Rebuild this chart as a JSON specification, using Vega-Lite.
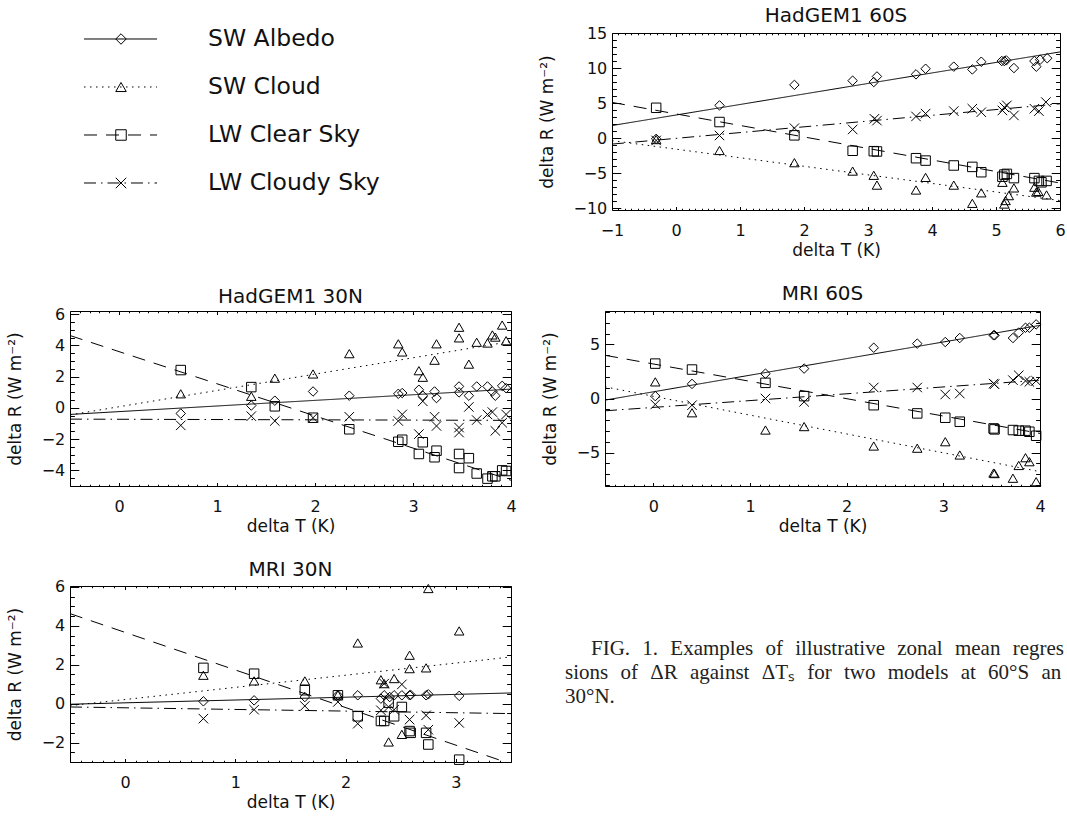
{
  "$schema": "https://vega.github.io/schema/vega-lite/v6.json",
  "padding": {"left": 5, "top": 5, "right": 0, "bottom": 0},
  "background": "white",
  "datasets": {
    "pts": [
      {"p":"H60S","s":"A","x":-0.31,"y":-0.1},{"p":"H60S","s":"A","x":0.68,"y":4.67},{"p":"H60S","s":"A","x":1.85,"y":7.6},{"p":"H60S","s":"A","x":2.76,"y":8.2},{"p":"H60S","s":"A","x":3.09,"y":8.0},{"p":"H60S","s":"A","x":3.14,"y":8.8},{"p":"H60S","s":"A","x":3.75,"y":9.1},{"p":"H60S","s":"A","x":3.9,"y":9.9},{"p":"H60S","s":"A","x":4.34,"y":10.2},{"p":"H60S","s":"A","x":4.63,"y":9.8},{"p":"H60S","s":"A","x":4.77,"y":10.9},{"p":"H60S","s":"A","x":5.09,"y":11.0},{"p":"H60S","s":"A","x":5.13,"y":11.0},{"p":"H60S","s":"A","x":5.16,"y":11.1},{"p":"H60S","s":"A","x":5.28,"y":10.0},{"p":"H60S","s":"A","x":5.6,"y":11.0},{"p":"H60S","s":"A","x":5.63,"y":10.2},{"p":"H60S","s":"A","x":5.69,"y":11.2},{"p":"H60S","s":"A","x":5.8,"y":11.4},
      {"p":"H60S","s":"C","x":-0.31,"y":-0.2},{"p":"H60S","s":"C","x":0.68,"y":-1.76},{"p":"H60S","s":"C","x":1.85,"y":-3.5},{"p":"H60S","s":"C","x":2.76,"y":-4.7},{"p":"H60S","s":"C","x":3.09,"y":-5.3},{"p":"H60S","s":"C","x":3.14,"y":-6.7},{"p":"H60S","s":"C","x":3.75,"y":-7.4},{"p":"H60S","s":"C","x":3.9,"y":-5.6},{"p":"H60S","s":"C","x":4.34,"y":-6.7},{"p":"H60S","s":"C","x":4.63,"y":-9.3},{"p":"H60S","s":"C","x":4.77,"y":-7.8},{"p":"H60S","s":"C","x":5.1,"y":-6.3},{"p":"H60S","s":"C","x":5.13,"y":-9.4},{"p":"H60S","s":"C","x":5.15,"y":-8.9},{"p":"H60S","s":"C","x":5.2,"y":-8.2},{"p":"H60S","s":"C","x":5.28,"y":-7.1},{"p":"H60S","s":"C","x":5.6,"y":-7.0},{"p":"H60S","s":"C","x":5.63,"y":-7.7},{"p":"H60S","s":"C","x":5.66,"y":-7.6},{"p":"H60S","s":"C","x":5.79,"y":-8.1},
      {"p":"H60S","s":"L","x":-0.31,"y":4.33},{"p":"H60S","s":"L","x":0.68,"y":2.3},{"p":"H60S","s":"L","x":1.85,"y":0.4},{"p":"H60S","s":"L","x":2.76,"y":-1.8},{"p":"H60S","s":"L","x":3.09,"y":-1.86},{"p":"H60S","s":"L","x":3.14,"y":-1.9},{"p":"H60S","s":"L","x":3.75,"y":-2.86},{"p":"H60S","s":"L","x":3.9,"y":-3.2},{"p":"H60S","s":"L","x":4.34,"y":-3.9},{"p":"H60S","s":"L","x":4.63,"y":-4.1},{"p":"H60S","s":"L","x":4.77,"y":-4.86},{"p":"H60S","s":"L","x":5.1,"y":-5.5},{"p":"H60S","s":"L","x":5.13,"y":-5.2},{"p":"H60S","s":"L","x":5.17,"y":-5.1},{"p":"H60S","s":"L","x":5.28,"y":-5.7},{"p":"H60S","s":"L","x":5.6,"y":-5.7},{"p":"H60S","s":"L","x":5.67,"y":-6.1},{"p":"H60S","s":"L","x":5.71,"y":-6.3},{"p":"H60S","s":"L","x":5.79,"y":-6.1},
      {"p":"H60S","s":"K","x":-0.31,"y":-0.33},{"p":"H60S","s":"K","x":0.68,"y":0.38},{"p":"H60S","s":"K","x":1.85,"y":1.43},{"p":"H60S","s":"K","x":2.76,"y":1.24},{"p":"H60S","s":"K","x":3.1,"y":2.76},{"p":"H60S","s":"K","x":3.14,"y":2.5},{"p":"H60S","s":"K","x":3.75,"y":3.1},{"p":"H60S","s":"K","x":3.9,"y":3.5},{"p":"H60S","s":"K","x":4.34,"y":3.86},{"p":"H60S","s":"K","x":4.63,"y":4.2},{"p":"H60S","s":"K","x":4.77,"y":3.7},{"p":"H60S","s":"K","x":5.1,"y":3.95},{"p":"H60S","s":"K","x":5.13,"y":4.4},{"p":"H60S","s":"K","x":5.17,"y":4.67},{"p":"H60S","s":"K","x":5.28,"y":3.24},{"p":"H60S","s":"K","x":5.6,"y":4.2},{"p":"H60S","s":"K","x":5.67,"y":3.86},{"p":"H60S","s":"K","x":5.78,"y":5.14},

      {"p":"H30N","s":"A","x":0.63,"y":-0.36},{"p":"H30N","s":"A","x":1.35,"y":0.15},{"p":"H30N","s":"A","x":1.59,"y":0.46},{"p":"H30N","s":"A","x":1.98,"y":1.05},{"p":"H30N","s":"A","x":2.35,"y":0.78},{"p":"H30N","s":"A","x":2.85,"y":0.9},{"p":"H30N","s":"A","x":2.89,"y":0.95},{"p":"H30N","s":"A","x":3.06,"y":1.16},{"p":"H30N","s":"A","x":3.1,"y":0.78},{"p":"H30N","s":"A","x":3.22,"y":1.05},{"p":"H30N","s":"A","x":3.24,"y":0.63},{"p":"H30N","s":"A","x":3.47,"y":1.37},{"p":"H30N","s":"A","x":3.47,"y":0.99},{"p":"H30N","s":"A","x":3.57,"y":0.78},{"p":"H30N","s":"A","x":3.65,"y":1.37},{"p":"H30N","s":"A","x":3.76,"y":1.37},{"p":"H30N","s":"A","x":3.81,"y":1.05},{"p":"H30N","s":"A","x":3.84,"y":0.78},{"p":"H30N","s":"A","x":3.91,"y":1.41},{"p":"H30N","s":"A","x":3.95,"y":1.26},
      {"p":"H30N","s":"C","x":0.63,"y":0.9},{"p":"H30N","s":"C","x":1.35,"y":0.74},{"p":"H30N","s":"C","x":1.59,"y":1.9},{"p":"H30N","s":"C","x":1.98,"y":2.17},{"p":"H30N","s":"C","x":2.35,"y":3.47},{"p":"H30N","s":"C","x":2.85,"y":4.1},{"p":"H30N","s":"C","x":2.89,"y":3.58},{"p":"H30N","s":"C","x":3.06,"y":2.38},{"p":"H30N","s":"C","x":3.1,"y":1.96},{"p":"H30N","s":"C","x":3.22,"y":3.05},{"p":"H30N","s":"C","x":3.24,"y":4.1},{"p":"H30N","s":"C","x":3.47,"y":5.16},{"p":"H30N","s":"C","x":3.47,"y":4.48},{"p":"H30N","s":"C","x":3.57,"y":2.8},{"p":"H30N","s":"C","x":3.65,"y":4.2},{"p":"H30N","s":"C","x":3.76,"y":4.15},{"p":"H30N","s":"C","x":3.81,"y":4.67},{"p":"H30N","s":"C","x":3.84,"y":4.53},{"p":"H30N","s":"C","x":3.91,"y":5.3},{"p":"H30N","s":"C","x":3.95,"y":4.3},
      {"p":"H30N","s":"L","x":0.63,"y":2.42},{"p":"H30N","s":"L","x":1.35,"y":1.33},{"p":"H30N","s":"L","x":1.59,"y":0.1},{"p":"H30N","s":"L","x":1.98,"y":-0.63},{"p":"H30N","s":"L","x":2.35,"y":-1.37},{"p":"H30N","s":"L","x":2.85,"y":-2.17},{"p":"H30N","s":"L","x":2.89,"y":-2.04},{"p":"H30N","s":"L","x":3.06,"y":-2.95},{"p":"H30N","s":"L","x":3.1,"y":-2.2},{"p":"H30N","s":"L","x":3.22,"y":-3.16},{"p":"H30N","s":"L","x":3.24,"y":-2.74},{"p":"H30N","s":"L","x":3.47,"y":-2.95},{"p":"H30N","s":"L","x":3.47,"y":-3.85},{"p":"H30N","s":"L","x":3.57,"y":-3.22},{"p":"H30N","s":"L","x":3.65,"y":-4.2},{"p":"H30N","s":"L","x":3.76,"y":-4.53},{"p":"H30N","s":"L","x":3.81,"y":-4.38},{"p":"H30N","s":"L","x":3.84,"y":-4.38},{"p":"H30N","s":"L","x":3.91,"y":-4.0},{"p":"H30N","s":"L","x":3.95,"y":-4.04},
      {"p":"H30N","s":"K","x":0.63,"y":-1.12},{"p":"H30N","s":"K","x":1.35,"y":-0.53},{"p":"H30N","s":"K","x":1.59,"y":-0.84},{"p":"H30N","s":"K","x":1.98,"y":-0.63},{"p":"H30N","s":"K","x":2.35,"y":-0.57},{"p":"H30N","s":"K","x":2.85,"y":-0.84},{"p":"H30N","s":"K","x":2.89,"y":-0.42},{"p":"H30N","s":"K","x":3.06,"y":-1.68},{"p":"H30N","s":"K","x":3.1,"y":0.42},{"p":"H30N","s":"K","x":3.22,"y":-0.57},{"p":"H30N","s":"K","x":3.24,"y":-1.16},{"p":"H30N","s":"K","x":3.47,"y":-1.26},{"p":"H30N","s":"K","x":3.47,"y":-1.58},{"p":"H30N","s":"K","x":3.57,"y":0.06},{"p":"H30N","s":"K","x":3.65,"y":-0.78},{"p":"H30N","s":"K","x":3.76,"y":-0.42},{"p":"H30N","s":"K","x":3.81,"y":-0.27},{"p":"H30N","s":"K","x":3.84,"y":-1.47},{"p":"H30N","s":"K","x":3.91,"y":-0.95},{"p":"H30N","s":"K","x":3.95,"y":-0.42},

      {"p":"M60S","s":"A","x":0.02,"y":0.22},{"p":"M60S","s":"A","x":0.4,"y":1.35},{"p":"M60S","s":"A","x":1.16,"y":2.3},{"p":"M60S","s":"A","x":1.56,"y":2.77},{"p":"M60S","s":"A","x":2.28,"y":4.7},{"p":"M60S","s":"A","x":2.73,"y":5.08},{"p":"M60S","s":"A","x":3.02,"y":5.23},{"p":"M60S","s":"A","x":3.17,"y":5.6},{"p":"M60S","s":"A","x":3.52,"y":5.85},{"p":"M60S","s":"A","x":3.53,"y":5.85},{"p":"M60S","s":"A","x":3.72,"y":5.6},{"p":"M60S","s":"A","x":3.78,"y":6.1},{"p":"M60S","s":"A","x":3.85,"y":6.55},{"p":"M60S","s":"A","x":3.89,"y":6.55},{"p":"M60S","s":"A","x":3.96,"y":6.86},
      {"p":"M60S","s":"C","x":0.02,"y":1.54},{"p":"M60S","s":"C","x":0.4,"y":-1.32},{"p":"M60S","s":"C","x":1.16,"y":-2.92},{"p":"M60S","s":"C","x":1.56,"y":-2.6},{"p":"M60S","s":"C","x":2.28,"y":-4.4},{"p":"M60S","s":"C","x":2.73,"y":-4.6},{"p":"M60S","s":"C","x":3.02,"y":-4.0},{"p":"M60S","s":"C","x":3.17,"y":-5.23},{"p":"M60S","s":"C","x":3.52,"y":-6.9},{"p":"M60S","s":"C","x":3.53,"y":-6.95},{"p":"M60S","s":"C","x":3.72,"y":-7.38},{"p":"M60S","s":"C","x":3.78,"y":-6.2},{"p":"M60S","s":"C","x":3.85,"y":-5.48},{"p":"M60S","s":"C","x":3.89,"y":-5.85},{"p":"M60S","s":"C","x":3.96,"y":-7.7},
      {"p":"M60S","s":"L","x":0.02,"y":3.23},{"p":"M60S","s":"L","x":0.4,"y":2.68},{"p":"M60S","s":"L","x":1.16,"y":1.45},{"p":"M60S","s":"L","x":1.56,"y":0.22},{"p":"M60S","s":"L","x":2.28,"y":-0.62},{"p":"M60S","s":"L","x":2.73,"y":-1.38},{"p":"M60S","s":"L","x":3.02,"y":-1.78},{"p":"M60S","s":"L","x":3.17,"y":-2.15},{"p":"M60S","s":"L","x":3.52,"y":-2.77},{"p":"M60S","s":"L","x":3.53,"y":-2.86},{"p":"M60S","s":"L","x":3.72,"y":-2.92},{"p":"M60S","s":"L","x":3.78,"y":-2.98},{"p":"M60S","s":"L","x":3.85,"y":-2.98},{"p":"M60S","s":"L","x":3.89,"y":-3.08},{"p":"M60S","s":"L","x":3.96,"y":-3.45},
      {"p":"M60S","s":"K","x":0.02,"y":-0.55},{"p":"M60S","s":"K","x":0.4,"y":-0.62},{"p":"M60S","s":"K","x":1.16,"y":0.0},{"p":"M60S","s":"K","x":1.56,"y":-0.31},{"p":"M60S","s":"K","x":2.28,"y":1.02},{"p":"M60S","s":"K","x":2.73,"y":1.02},{"p":"M60S","s":"K","x":3.02,"y":0.37},{"p":"M60S","s":"K","x":3.17,"y":0.46},{"p":"M60S","s":"K","x":3.52,"y":1.38},{"p":"M60S","s":"K","x":3.53,"y":1.32},{"p":"M60S","s":"K","x":3.72,"y":1.7},{"p":"M60S","s":"K","x":3.78,"y":2.15},{"p":"M60S","s":"K","x":3.85,"y":1.63},{"p":"M60S","s":"K","x":3.89,"y":1.54},{"p":"M60S","s":"K","x":3.96,"y":1.63},

      {"p":"M30N","s":"A","x":0.71,"y":0.12},{"p":"M30N","s":"A","x":1.17,"y":0.17},{"p":"M30N","s":"A","x":1.63,"y":0.34},{"p":"M30N","s":"A","x":1.93,"y":0.43},{"p":"M30N","s":"A","x":2.11,"y":0.43},{"p":"M30N","s":"A","x":2.32,"y":0.26},{"p":"M30N","s":"A","x":2.35,"y":0.43},{"p":"M30N","s":"A","x":2.4,"y":0.34},{"p":"M30N","s":"A","x":2.44,"y":0.43},{"p":"M30N","s":"A","x":2.51,"y":0.43},{"p":"M30N","s":"A","x":2.58,"y":0.43},{"p":"M30N","s":"A","x":2.59,"y":0.45},{"p":"M30N","s":"A","x":2.73,"y":0.43},{"p":"M30N","s":"A","x":2.75,"y":0.48},{"p":"M30N","s":"A","x":3.03,"y":0.4},
      {"p":"M30N","s":"C","x":0.71,"y":1.46},{"p":"M30N","s":"C","x":1.17,"y":1.17},{"p":"M30N","s":"C","x":1.63,"y":1.17},{"p":"M30N","s":"C","x":1.93,"y":0.45},{"p":"M30N","s":"C","x":2.11,"y":3.12},{"p":"M30N","s":"C","x":2.32,"y":1.23},{"p":"M30N","s":"C","x":2.35,"y":1.03},{"p":"M30N","s":"C","x":2.39,"y":-1.97},{"p":"M30N","s":"C","x":2.44,"y":1.29},{"p":"M30N","s":"C","x":2.51,"y":-1.58},{"p":"M30N","s":"C","x":2.58,"y":2.49},{"p":"M30N","s":"C","x":2.58,"y":1.8},{"p":"M30N","s":"C","x":2.73,"y":1.84},{"p":"M30N","s":"C","x":2.75,"y":5.92},{"p":"M30N","s":"C","x":3.03,"y":3.74},
      {"p":"M30N","s":"L","x":0.71,"y":1.84},{"p":"M30N","s":"L","x":1.17,"y":1.54},{"p":"M30N","s":"L","x":1.63,"y":0.69},{"p":"M30N","s":"L","x":1.93,"y":0.43},{"p":"M30N","s":"L","x":2.11,"y":-0.65},{"p":"M30N","s":"L","x":2.32,"y":-0.89},{"p":"M30N","s":"L","x":2.35,"y":-0.89},{"p":"M30N","s":"L","x":2.39,"y":0.05},{"p":"M30N","s":"L","x":2.44,"y":-0.65},{"p":"M30N","s":"L","x":2.51,"y":-0.17},{"p":"M30N","s":"L","x":2.58,"y":-1.41},{"p":"M30N","s":"L","x":2.59,"y":-1.5},{"p":"M30N","s":"L","x":2.73,"y":-1.5},{"p":"M30N","s":"L","x":2.75,"y":-2.1},{"p":"M30N","s":"L","x":3.03,"y":-2.88},
      {"p":"M30N","s":"K","x":0.71,"y":-0.77},{"p":"M30N","s":"K","x":1.17,"y":-0.31},{"p":"M30N","s":"K","x":1.63,"y":-0.12},{"p":"M30N","s":"K","x":1.93,"y":0.09},{"p":"M30N","s":"K","x":2.11,"y":-1.03},{"p":"M30N","s":"K","x":2.32,"y":-0.34},{"p":"M30N","s":"K","x":2.35,"y":1.03},{"p":"M30N","s":"K","x":2.39,"y":-0.17},{"p":"M30N","s":"K","x":2.44,"y":-0.31},{"p":"M30N","s":"K","x":2.51,"y":0.99},{"p":"M30N","s":"K","x":2.58,"y":-0.82},{"p":"M30N","s":"K","x":2.73,"y":-0.6},{"p":"M30N","s":"K","x":2.75,"y":-1.34},{"p":"M30N","s":"K","x":3.03,"y":-0.99}
    ],
    "fit": [
      {"p":"H60S","s":"A","x":-1,"y":1.8},{"p":"H60S","s":"A","x":6,"y":12.3},
      {"p":"H60S","s":"C","x":-1,"y":-0.35},{"p":"H60S","s":"C","x":6,"y":-8.9},
      {"p":"H60S","s":"L","x":-1,"y":5.1},{"p":"H60S","s":"L","x":6,"y":-6.4},
      {"p":"H60S","s":"K","x":-1,"y":-0.85},{"p":"H60S","s":"K","x":6,"y":4.9},
      {"p":"H30N","s":"A","x":-0.5,"y":-0.42},{"p":"H30N","s":"A","x":4,"y":1.2},
      {"p":"H30N","s":"C","x":-0.5,"y":-0.45},{"p":"H30N","s":"C","x":4,"y":4.25},
      {"p":"H30N","s":"L","x":-0.5,"y":4.63},{"p":"H30N","s":"L","x":4,"y":-4.63},
      {"p":"H30N","s":"K","x":-0.5,"y":-0.72},{"p":"H30N","s":"K","x":4,"y":-0.8},
      {"p":"M60S","s":"A","x":-0.5,"y":-0.15},{"p":"M60S","s":"A","x":4,"y":6.77},
      {"p":"M60S","s":"C","x":-0.5,"y":1.08},{"p":"M60S","s":"C","x":4,"y":-6.77},
      {"p":"M60S","s":"L","x":-0.5,"y":4.0},{"p":"M60S","s":"L","x":4,"y":-3.23},
      {"p":"M60S","s":"K","x":-0.5,"y":-1.14},{"p":"M60S","s":"K","x":4,"y":1.7},
      {"p":"M30N","s":"A","x":-0.5,"y":-0.03},{"p":"M30N","s":"A","x":3.5,"y":0.55},
      {"p":"M30N","s":"C","x":-0.5,"y":-0.1},{"p":"M30N","s":"C","x":3.5,"y":2.4},
      {"p":"M30N","s":"L","x":-0.5,"y":4.63},{"p":"M30N","s":"L","x":3.5,"y":-3.1},
      {"p":"M30N","s":"K","x":-0.5,"y":-0.17},{"p":"M30N","s":"K","x":3.5,"y":-0.51}
    ],
    "leg": [
      {"i":1,"s":"A","name":"SW Albedo"},{"i":2,"s":"C","name":"SW Cloud"},{"i":3,"s":"L","name":"LW Clear Sky"},{"i":4,"s":"K","name":"LW Cloudy Sky"}
    ],
    "cap": [
      {"n":1,"t":"FIG.\u2002\u200A1.\u2002\u200AExamples\u2002\u200Aof\u2002\u200Aillustrative\u2002\u200Azonal\u2002\u200Amean\u2002\u200Aregres-"},
      {"n":2,"t":"sions\u2002\u200Aof\u2002\u200AΔR\u2002\u200Aagainst\u2002\u200AΔTₛ\u2002\u200Afor\u2002\u200Atwo\u2002\u200Amodels\u2002\u200Aat\u2002\u200A60°S\u2002\u200Aand"},
      {"n":3,"t":"30°N."}
    ]
  },
  "vconcat": [
    {
      "hconcat": [
        {
          "width": 427, "height": 176,
          "view": {"stroke": null},
          "data": {"name": "leg"},
          "encoding": {
            "y": {"field": "i", "type": "quantitative", "scale": {"domain": [0.875, 4.5417], "reverse": true, "nice": false, "zero": false}, "axis": null}
          },
          "layer": [
            {
              "mark": {"type": "rule", "color": "black", "strokeWidth": 1},
              "encoding": {
                "x": {"datum": 2.8, "type": "quantitative", "scale": {"domain": [0, 85.4], "nice": false, "zero": false}, "axis": null},
                "x2": {"datum": 17.4},
                "strokeDash": {"field": "s", "type": "nominal", "scale": {"domain": ["A","C","L","K"], "range": [[1,0],[1.5,4.5],[13,9],[12,5,1.5,5]]}, "legend": null}
              }
            },
            {
              "mark": {"type": "point", "filled": false, "color": "black", "strokeWidth": 1, "size": 110, "opacity": 1},
              "encoding": {
                "x": {"datum": 10.2, "type": "quantitative", "scale": {"domain": [0, 85.4], "nice": false, "zero": false}, "axis": null},
                "shape": {"field": "s", "type": "nominal", "scale": {"domain": ["A","C","L","K"], "range": ["diamond","triangle-up","square","M-1,-1L1,1M-1,1L1,-1"]}, "legend": null}
              }
            },
            {
              "mark": {"type": "text", "align": "left", "baseline": "middle", "font": "DejaVu Sans", "fontSize": 23.5, "color": "#111"},
              "encoding": {
                "x": {"datum": 27.6, "type": "quantitative", "scale": {"domain": [0, 85.4], "nice": false, "zero": false}, "axis": null},
                "text": {"field": "name"}
              }
            }
          ]
        },
        {
          "title": {"text": "HadGEM1 60S", "offset": -1},
          "width": 448, "height": 177,
          "layer": [
            {
              "data": {"name": "pts"},
              "transform": [{"filter": "datum.p == 'H60S'"}],
              "mark": {"type": "point", "filled": false, "color": "black", "strokeWidth": 1, "size": 90, "opacity": 1},
              "encoding": {
                "x": {"field": "x", "type": "quantitative", "scale": {"domain": [-1, 6], "nice": false, "zero": false},
                      "axis": {"title": "delta T (K)", "tickCount": 70, "labelExpr": "datum.value % 1 == 0 ? format(datum.value, 'd') : ''",
                               "tickSize": {"condition": {"test": "datum.value % 1 == 0", "value": -3.5}, "value": -1.75}}},
                "y": {"field": "y", "type": "quantitative", "scale": {"domain": [-10.25, 15], "nice": false, "zero": false},
                      "axis": {"title": "delta R (W m⁻²)", "tickCount": 25, "labelExpr": "datum.value % 5 == 0 ? format(datum.value, 'd') : ''",
                               "tickSize": {"condition": {"test": "datum.value % 5 == 0", "value": -8.8}, "value": -4.4}}},
                "shape": {"field": "s", "type": "nominal", "scale": {"domain": ["A","C","L","K"], "range": ["diamond","triangle-up","square","M-1,-1L1,1M-1,1L1,-1"]}, "legend": null}
              }
            },
            {
              "data": {"name": "fit"},
              "transform": [{"filter": "datum.p == 'H60S'"}],
              "mark": {"type": "line", "color": "black", "strokeWidth": 1, "clip": true},
              "encoding": {
                "x": {"field": "x", "type": "quantitative", "scale": {"domain": [-1, 6], "nice": false, "zero": false},
                      "axis": {"orient": "top", "labels": false, "title": null, "tickCount": 70,
                               "tickSize": {"condition": {"test": "datum.value % 1 == 0", "value": -3.5}, "value": -1.75}}},
                "y": {"field": "y", "type": "quantitative", "scale": {"domain": [-10.25, 15], "nice": false, "zero": false},
                      "axis": {"orient": "right", "labels": false, "title": null, "tickCount": 25,
                               "tickSize": {"condition": {"test": "datum.value % 5 == 0", "value": -8.8}, "value": -4.4}}},
                "strokeDash": {"field": "s", "type": "nominal", "scale": {"domain": ["A","C","L","K"], "range": [[1,0],[1.5,4.5],[13,9],[12,5,1.5,5]]}, "legend": null}
              }
            }
          ],
          "resolve": {"axis": {"x": "independent", "y": "independent"}}
        }
      ],
      "spacing": 40
    },
    {
      "hconcat": [
        {
          "title": {"text": "HadGEM1 30N", "offset": -1},
          "width": 441, "height": 175,
          "layer": [
            {
              "data": {"name": "pts"},
              "transform": [{"filter": "datum.p == 'H30N'"}],
              "mark": {"type": "point", "filled": false, "color": "black", "strokeWidth": 1, "size": 90, "opacity": 1},
              "encoding": {
                "x": {"field": "x", "type": "quantitative", "scale": {"domain": [-0.5, 4], "nice": false, "zero": false},
                      "axis": {"title": "delta T (K)", "tickCount": 45, "labelExpr": "datum.value % 1 == 0 ? format(datum.value, 'd') : ''",
                               "tickSize": {"condition": {"test": "datum.value % 1 == 0", "value": -3.5}, "value": -1.75}}},
                "y": {"field": "y", "type": "quantitative", "scale": {"domain": [-5, 6.2], "nice": false, "zero": false},
                      "axis": {"title": "delta R (W m⁻²)", "tickCount": 22, "labelExpr": "datum.value % 2 == 0 ? format(datum.value, 'd') : ''",
                               "tickSize": {"condition": {"test": "datum.value % 2 == 0", "value": -8.8}, "value": -4.4}}},
                "shape": {"field": "s", "type": "nominal", "scale": {"domain": ["A","C","L","K"], "range": ["diamond","triangle-up","square","M-1,-1L1,1M-1,1L1,-1"]}, "legend": null}
              }
            },
            {
              "data": {"name": "fit"},
              "transform": [{"filter": "datum.p == 'H30N'"}],
              "mark": {"type": "line", "color": "black", "strokeWidth": 1, "clip": true},
              "encoding": {
                "x": {"field": "x", "type": "quantitative", "scale": {"domain": [-0.5, 4], "nice": false, "zero": false},
                      "axis": {"orient": "top", "labels": false, "title": null, "tickCount": 45,
                               "tickSize": {"condition": {"test": "datum.value % 1 == 0", "value": -3.5}, "value": -1.75}}},
                "y": {"field": "y", "type": "quantitative", "scale": {"domain": [-5, 6.2], "nice": false, "zero": false},
                      "axis": {"orient": "right", "labels": false, "title": null, "tickCount": 22,
                               "tickSize": {"condition": {"test": "datum.value % 2 == 0", "value": -8.8}, "value": -4.4}}},
                "strokeDash": {"field": "s", "type": "nominal", "scale": {"domain": ["A","C","L","K"], "range": [[1,0],[1.5,4.5],[13,9],[12,5,1.5,5]]}, "legend": null}
              }
            }
          ],
          "resolve": {"axis": {"x": "independent", "y": "independent"}}
        },
        {
          "title": {"text": "MRI 60S", "offset": 0},
          "width": 435, "height": 175,
          "layer": [
            {
              "data": {"name": "pts"},
              "transform": [{"filter": "datum.p == 'M60S'"}],
              "mark": {"type": "point", "filled": false, "color": "black", "strokeWidth": 1, "size": 90, "opacity": 1},
              "encoding": {
                "x": {"field": "x", "type": "quantitative", "scale": {"domain": [-0.5, 4], "nice": false, "zero": false},
                      "axis": {"title": "delta T (K)", "tickCount": 45, "labelExpr": "datum.value % 1 == 0 ? format(datum.value, 'd') : ''",
                               "tickSize": {"condition": {"test": "datum.value % 1 == 0", "value": -3.5}, "value": -1.75}}},
                "y": {"field": "y", "type": "quantitative", "scale": {"domain": [-8.1, 8.1], "nice": false, "zero": false},
                      "axis": {"title": "delta R (W m⁻²)", "tickCount": 16, "labelExpr": "datum.value % 5 == 0 ? format(datum.value, 'd') : ''",
                               "tickSize": {"condition": {"test": "datum.value % 5 == 0", "value": -8.8}, "value": -4.4}}},
                "shape": {"field": "s", "type": "nominal", "scale": {"domain": ["A","C","L","K"], "range": ["diamond","triangle-up","square","M-1,-1L1,1M-1,1L1,-1"]}, "legend": null}
              }
            },
            {
              "data": {"name": "fit"},
              "transform": [{"filter": "datum.p == 'M60S'"}],
              "mark": {"type": "line", "color": "black", "strokeWidth": 1, "clip": true},
              "encoding": {
                "x": {"field": "x", "type": "quantitative", "scale": {"domain": [-0.5, 4], "nice": false, "zero": false},
                      "axis": {"orient": "top", "labels": false, "title": null, "tickCount": 45,
                               "tickSize": {"condition": {"test": "datum.value % 1 == 0", "value": -3.5}, "value": -1.75}}},
                "y": {"field": "y", "type": "quantitative", "scale": {"domain": [-8.1, 8.1], "nice": false, "zero": false},
                      "axis": {"orient": "right", "labels": false, "title": null, "tickCount": 16,
                               "tickSize": {"condition": {"test": "datum.value % 5 == 0", "value": -8.8}, "value": -4.4}}},
                "strokeDash": {"field": "s", "type": "nominal", "scale": {"domain": ["A","C","L","K"], "range": [[1,0],[1.5,4.5],[13,9],[12,5,1.5,5]]}, "legend": null}
              }
            }
          ],
          "resolve": {"axis": {"x": "independent", "y": "independent"}}
        }
      ],
      "spacing": 23
    },
    {
      "hconcat": [
        {
          "title": {"text": "MRI 30N", "offset": -1},
          "width": 441, "height": 176,
          "layer": [
            {
              "data": {"name": "pts"},
              "transform": [{"filter": "datum.p == 'M30N'"}],
              "mark": {"type": "point", "filled": false, "color": "black", "strokeWidth": 1, "size": 90, "opacity": 1},
              "encoding": {
                "x": {"field": "x", "type": "quantitative", "scale": {"domain": [-0.5, 3.5], "nice": false, "zero": false},
                      "axis": {"title": "delta T (K)", "tickCount": 40, "labelExpr": "datum.value % 1 == 0 ? format(datum.value, 'd') : ''",
                               "tickSize": {"condition": {"test": "datum.value % 1 == 0", "value": -3.5}, "value": -1.75}}},
                "y": {"field": "y", "type": "quantitative", "scale": {"domain": [-3, 6.05], "nice": false, "zero": false},
                      "axis": {"title": "delta R (W m⁻²)", "tickCount": 18, "labelExpr": "datum.value % 2 == 0 ? format(datum.value, 'd') : ''",
                               "tickSize": {"condition": {"test": "datum.value % 2 == 0", "value": -8.8}, "value": -4.4}}},
                "shape": {"field": "s", "type": "nominal", "scale": {"domain": ["A","C","L","K"], "range": ["diamond","triangle-up","square","M-1,-1L1,1M-1,1L1,-1"]}, "legend": null}
              }
            },
            {
              "data": {"name": "fit"},
              "transform": [{"filter": "datum.p == 'M30N'"}],
              "mark": {"type": "line", "color": "black", "strokeWidth": 1, "clip": true},
              "encoding": {
                "x": {"field": "x", "type": "quantitative", "scale": {"domain": [-0.5, 3.5], "nice": false, "zero": false},
                      "axis": {"orient": "top", "labels": false, "title": null, "tickCount": 40,
                               "tickSize": {"condition": {"test": "datum.value % 1 == 0", "value": -3.5}, "value": -1.75}}},
                "y": {"field": "y", "type": "quantitative", "scale": {"domain": [-3, 6.05], "nice": false, "zero": false},
                      "axis": {"orient": "right", "labels": false, "title": null, "tickCount": 18,
                               "tickSize": {"condition": {"test": "datum.value % 2 == 0", "value": -8.8}, "value": -4.4}}},
                "strokeDash": {"field": "s", "type": "nominal", "scale": {"domain": ["A","C","L","K"], "range": [[1,0],[1.5,4.5],[13,9],[12,5,1.5,5]]}, "legend": null}
              }
            }
          ],
          "resolve": {"axis": {"x": "independent", "y": "independent"}}
        },
        {
          "width": 500, "height": 176,
          "view": {"stroke": null},
          "data": {"name": "cap"},
          "encoding": {
            "y": {"field": "n", "type": "quantitative", "scale": {"domain": [-1.875, 5.458], "reverse": true, "nice": false, "zero": false}, "axis": null}
          },
          "layer": [
            {
              "transform": [{"filter": "datum.n == 1"}],
              "mark": {"type": "text", "align": "left", "baseline": "alphabetic", "font": "Liberation Serif", "fontSize": 21, "color": "#222", "limit": 476, "ellipsis": "\u200B"},
              "encoding": {
                "x": {"datum": 1.22, "type": "quantitative", "scale": {"domain": [0, 10], "nice": false, "zero": false}, "axis": null},
                "text": {"field": "t"}
              }
            },
            {
              "transform": [{"filter": "datum.n > 1"}],
              "mark": {"type": "text", "align": "left", "baseline": "alphabetic", "font": "Liberation Serif", "fontSize": 21, "color": "#222", "limit": 502, "ellipsis": "\u200B"},
              "encoding": {
                "x": {"datum": 0.7, "type": "quantitative", "scale": {"domain": [0, 10], "nice": false, "zero": false}, "axis": null},
                "text": {"field": "t"}
              }
            }
          ]
        }
      ],
      "spacing": 18
    }
  ],
  "spacing": 24,
  "config": {
    "view": {"stroke": "black", "strokeWidth": 1},
    "font": "DejaVu Sans",
    "title": {"font": "DejaVu Sans", "fontSize": 20, "fontWeight": "normal", "color": "#111", "baseline": "alphabetic", "frame": "group"},
    "axis": {
      "domain": false, "grid": false,
      "tickColor": "black", "tickWidth": 1,
      "labelFont": "DejaVu Sans", "labelFontSize": 16, "labelColor": "#111",
      "labelFlush": false, "labelOverlap": false,
      "titleFont": "DejaVu Sans", "titleFontSize": 17, "titleFontWeight": "normal", "titleColor": "#111"
    },
    "axisX": {"labelPadding": 16, "titlePadding": 2},
    "axisY": {"labelPadding": 14, "titlePadding": 17}
  }
}
